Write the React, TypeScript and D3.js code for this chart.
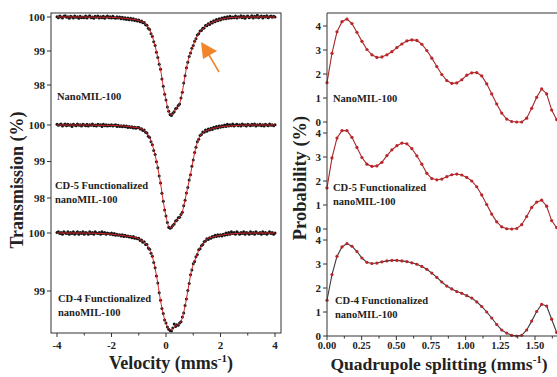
import React from 'react'
import * as d3 from 'd3'

// Mössbauer spectra: channels from -4 to 4 mm/s, step 0.05
const velocity = d3.range(161).map(i => +(-4 + i * 0.05).toFixed(2))
const spectrumNano = [
  100.01, 99.98, 100.03, 100.00, 99.97, 100.02, 100.04, 99.99, 100.01, 99.96,
  100.02, 100.00, 99.97, 100.03, 99.99, 100.01, 99.96, 100.02, 99.98, 100.00,
  99.98, 100.03, 99.97, 100.01, 100.04, 99.98, 100.00, 99.96, 100.02, 99.99,
  100.03, 99.97, 100.01, 99.98, 100.02, 99.96, 100.00, 100.03, 99.98, 100.01,
  99.97, 100.02, 99.98, 99.96, 100.01, 99.97, 100.00, 99.95, 99.99, 99.94,
  99.98, 99.93, 99.97, 99.92, 99.96, 99.91, 99.95, 99.90, 99.93, 99.88,
  99.91, 99.86, 99.88, 99.83, 99.84, 99.77, 99.76, 99.67, 99.63, 99.51,
  99.43, 99.27, 99.16, 98.96, 98.81, 98.61, 98.46, 98.18, 97.96, 97.73,
  97.56, 97.35, 97.23, 97.13, 97.10, 97.17, 97.21, 97.30, 97.32, 97.40,
  97.44, 97.62, 97.79, 98.06, 98.27, 98.51, 98.67, 98.84, 98.94, 99.08,
  99.16, 99.29, 99.36, 99.47, 99.51, 99.59, 99.60, 99.67, 99.68, 99.75,
  99.74, 99.80, 99.78, 99.85, 99.82, 99.89, 99.86, 99.93, 99.89, 99.95,
  99.91, 99.97, 99.94, 99.99, 99.95, 100.01, 99.96, 100.02, 99.97, 100.00,
  99.98, 100.03, 99.97, 100.01, 99.99, 100.04, 99.98, 100.02, 99.96, 100.01,
  100.03, 99.98, 100.00, 100.04, 99.97, 100.02, 99.99, 100.05, 99.98, 100.01,
  100.03, 99.97, 100.02, 100.00, 100.04, 99.98, 100.01, 100.03, 99.99, 100.02,
  100.00]
const spectrumCD5 = [
  100.02, 99.99, 100.01, 100.03, 99.97, 100.00, 100.03, 99.98, 100.02, 99.99,
  100.01, 99.96, 100.02, 100.00, 99.98, 100.03, 99.99, 100.01, 99.97, 100.02,
  100.00, 99.98, 100.02, 99.97, 100.01, 99.99, 100.03, 99.98, 100.00, 99.97,
  100.02, 99.99, 100.01, 99.96, 100.02, 99.98, 100.01, 99.97, 100.00, 99.98,
  100.01, 99.97, 99.99, 100.01, 99.96, 99.99, 99.96, 99.98, 99.95, 99.98,
  99.95, 99.97, 99.93, 99.96, 99.93, 99.95, 99.92, 99.94, 99.91, 99.93,
  99.93, 99.89, 99.90, 99.85, 99.86, 99.80, 99.78, 99.69, 99.66, 99.54,
  99.46, 99.30, 99.19, 98.99, 98.83, 98.60, 98.41, 98.13, 97.91, 97.67,
  97.51, 97.33, 97.20, 97.17, 97.19, 97.25, 97.29, 97.37, 97.39, 97.46,
  97.47, 97.55, 97.61, 97.79, 97.94, 98.14, 98.29, 98.49, 98.64, 98.87,
  99.04, 99.25, 99.39, 99.54, 99.61, 99.71, 99.74, 99.81, 99.80, 99.86,
  99.83, 99.89, 99.86, 99.91, 99.88, 99.94, 99.91, 99.96, 99.92, 99.97,
  99.94, 99.98, 99.95, 100.00, 99.96, 100.02, 99.97, 100.01, 99.98, 100.03,
  99.97, 100.00, 100.02, 99.98, 100.01, 99.97, 100.03, 99.99, 100.01, 99.97,
  100.02, 100.00, 99.98, 100.02, 99.99, 100.03, 99.97, 100.01, 99.99, 100.02,
  99.98, 100.01, 99.97, 100.02, 100.00, 99.98, 100.03, 99.99, 100.01, 99.98,
  100.01]
const spectrumCD4 = [
  100.01, 100.02, 99.99, 100.01, 99.98, 100.02, 100.00, 99.99, 100.02, 99.98,
  100.01, 99.99, 100.02, 99.98, 100.00, 100.02, 99.98, 100.01, 99.99, 100.02,
  99.98, 100.01, 100.00, 99.98, 100.02, 99.99, 100.01, 99.98, 100.02, 100.00,
  99.99, 100.01, 99.98, 100.02, 99.99, 100.01, 99.98, 100.00, 99.99, 99.98,
  100.00, 99.97, 99.99, 99.96, 99.98, 99.96, 99.97, 99.95, 99.97, 99.94,
  99.96, 99.94, 99.95, 99.93, 99.94, 99.92, 99.94, 99.91, 99.92, 99.90,
  99.91, 99.87, 99.88, 99.84, 99.85, 99.80, 99.80, 99.74, 99.72, 99.65,
  99.60, 99.49, 99.40, 99.26, 99.14, 98.97, 98.84, 98.70, 98.61, 98.50,
  98.45, 98.38, 98.34, 98.32, 98.31, 98.36, 98.43, 98.39, 98.42, 98.41,
  98.45, 98.47, 98.55, 98.62, 98.75, 98.86, 99.01, 99.13, 99.28, 99.36,
  99.47, 99.51, 99.59, 99.63, 99.71, 99.73, 99.78, 99.80, 99.85, 99.86,
  99.90, 99.89, 99.92, 99.91, 99.94, 99.93, 99.96, 99.94, 99.97, 99.95,
  99.97, 99.95, 99.98, 99.96, 100.00, 99.97, 100.01, 99.98, 100.02, 99.99,
  100.01, 99.98, 100.02, 100.00, 99.98, 100.01, 99.99, 100.02, 99.98, 100.01,
  100.00, 99.98, 100.02, 99.99, 100.01, 99.98, 100.02, 100.00, 99.99, 100.01,
  99.98, 100.02, 99.99, 100.01, 99.98, 100.00, 100.02, 99.99, 100.01, 99.98,
  100.00]

// fitted curves
const fitVelocity = [-4, -3, -2, -1.5, -1.2, -1, -0.9, -0.8, -0.7, -0.6, -0.5, -0.4, -0.3, -0.2, -0.1,
  0, 0.1, 0.2, 0.3, 0.4, 0.5, 0.6, 0.7, 0.8, 0.9, 1, 1.1, 1.2, 1.3, 1.4, 1.5, 1.7, 2, 2.5, 3, 4]
const fitNano = [100, 100, 99.99, 99.96, 99.93, 99.90, 99.87, 99.83, 99.75, 99.62, 99.42, 99.15, 98.80, 98.45, 97.95,
  97.55, 97.22, 97.12, 97.22, 97.33, 97.45, 97.80, 98.28, 98.68, 98.95, 99.17, 99.37, 99.52, 99.61, 99.69, 99.76,
  99.84, 99.93, 99.99, 100, 100]
const fitCD5 = [100, 100, 99.99, 99.97, 99.94, 99.92, 99.89, 99.85, 99.77, 99.65, 99.45, 99.18, 98.82, 98.40, 97.90,
  97.50, 97.22, 97.18, 97.30, 97.40, 97.47, 97.62, 97.95, 98.30, 98.65, 99.05, 99.40, 99.62, 99.75, 99.82, 99.85,
  99.90, 99.95, 99.98, 100, 100]
const fitCD4 = [100, 100, 99.98, 99.95, 99.93, 99.90, 99.87, 99.84, 99.79, 99.71, 99.59, 99.39, 99.13, 98.83, 98.60,
  98.44, 98.35, 98.33, 98.38, 98.41, 98.44, 98.54, 98.74, 99.00, 99.27, 99.46, 99.58, 99.70, 99.77, 99.84, 99.89,
  99.93, 99.96, 99.99, 100, 100]

// quadrupole splitting distributions, step 0.036 mm/s
const splitting = d3.range(47).map(i => i * 0.036)
const probNano = [1.64, 2.86, 3.76, 4.18, 4.29, 4.10, 3.74, 3.36, 3.02, 2.80,
  2.69, 2.71, 2.80, 2.93, 3.10, 3.25, 3.38, 3.42, 3.40, 3.24,
  2.98, 2.66, 2.31, 1.98, 1.73, 1.61, 1.63, 1.76, 1.95, 2.05,
  2.06, 1.92, 1.59, 1.17, 0.75, 0.37, 0.12, 0.02, 0.00, 0.00,
  0.16, 0.57, 1.03, 1.38, 1.17, 0.50, 0.10]
const probCD5 = [1.71, 2.96, 3.79, 4.10, 4.10, 3.82, 3.40, 2.98, 2.70, 2.61,
  2.63, 2.78, 3.06, 3.30, 3.47, 3.58, 3.55, 3.35, 3.05, 2.70,
  2.32, 2.10, 2.05, 2.08, 2.18, 2.26, 2.29, 2.25, 2.15, 2.00,
  1.76, 1.42, 1.02, 0.62, 0.30, 0.09, 0.01, 0.00, 0.02, 0.18,
  0.52, 0.90, 1.12, 1.20, 0.95, 0.35, 0.06]
const probCD4 = [1.49, 2.56, 3.32, 3.71, 3.85, 3.74, 3.52, 3.25, 3.07, 3.02,
  3.04, 3.09, 3.13, 3.15, 3.15, 3.13, 3.10, 3.05, 2.99, 2.90,
  2.78, 2.62, 2.44, 2.25, 2.08, 1.96, 1.85, 1.78, 1.68, 1.58,
  1.42, 1.23, 1.00, 0.75, 0.48, 0.25, 0.12, 0.03, 0.00, 0.03,
  0.25, 0.62, 1.02, 1.32, 1.25, 0.70, 0.15]

const velTicks = [-4, -2, 0, 2, 4]
const velMinor = [-3, -1, 1, 3]
const qsTicks = [0, 0.25, 0.5, 0.75, 1, 1.25, 1.5]
const qsMinor = [0.125, 0.375, 0.625, 0.875, 1.125, 1.375, 1.625]
const probTicks = [0, 1, 2, 3, 4]

const FONT = '"Liberation Serif", "Times New Roman", serif'
const AX = '#333'

export default function App(){
  const xv = d3.scaleLinear().domain([-4, 4]).range([57, 275])
  const xq = d3.scaleLinear().domain([0, 1.5]).range([327, 535])

  const left = [
    { T: spectrumNano, fit: fitNano, ticks: [100, 99, 98], y: d3.scaleLinear().domain([100, 98]).range([17, 85]),
      label: ['NanoMIL-100'], lx: 57, ly: 100 },
    { T: spectrumCD5, fit: fitCD5, ticks: [100, 99, 98], y: d3.scaleLinear().domain([100, 98]).range([125, 198]),
      label: ['CD-5 Functionalized', 'nanoMIL-100'], lx: 55, ly: 189 },
    { T: spectrumCD4, fit: fitCD4, ticks: [100, 99], y: d3.scaleLinear().domain([100, 99]).range([233, 291]),
      label: ['CD-4 Functionalized', 'nanoMIL-100'], lx: 58, ly: 302 },
  ]
  const right = [
    { P: probNano, y: d3.scaleLinear().domain([0, 4]).range([122, 26]), stroke: '#a8292b',
      label: ['NanoMIL-100'], lx: 333, ly: 102 },
    { P: probCD5, y: d3.scaleLinear().domain([0, 4]).range([229, 133]), stroke: '#a8292b',
      label: ['CD-5 Functionalized', 'nanoMIL-100'], lx: 333, ly: 191 },
    { P: probCD4, y: d3.scaleLinear().domain([0, 4]).range([336, 240]), stroke: '#3a3a3a',
      label: ['CD-4 Functionalized', 'nanoMIL-100'], lx: 335, ly: 304 },
  ]

  return (
    <svg width={557} height={377} style={{position:'absolute', left:0, top:0, background:'#fff'}}
      fontFamily={FONT} fontWeight="bold">
      {/* left: transmission spectra */}
      {left.map((p, k) => {
        const line = d3.line<number>().x((_, i) => xv(fitVelocity[i])).y(d => p.y(d)).curve(d3.curveMonotoneX)
        return (
          <g key={'l'+k}>
            {p.T.map((t, i) => <circle key={i} cx={xv(velocity[i])} cy={p.y(t)} r={1.5} fill="#151515" />)}
            <path d={line(p.fit) || ''} fill="none" stroke="#d42226" strokeWidth={1} />
            {p.ticks.map(t => (
              <g key={t}>
                <line x1={47} x2={51} y1={p.y(t)} y2={p.y(t)} stroke={AX} />
                <text x={45} y={p.y(t)} dy="0.35em" textAnchor="end" fontSize={11} fill="#222">{t}</text>
              </g>
            ))}
            <text x={p.lx} y={p.ly} fontSize={10.5} fill="#222">
              {p.label.map((s, i) => <tspan key={i} x={p.lx} dy={i ? 14 : 0}>{s}</tspan>)}
            </text>
          </g>
        )
      })}
      <rect x={51} y={13} width={230} height={320} fill="none" stroke={AX} />
      {velTicks.map(v => (
        <g key={v}>
          <line x1={xv(v)} x2={xv(v)} y1={333} y2={337} stroke={AX} />
          <text x={xv(v)} y={349} textAnchor="middle" fontSize={11} fill="#222">{v}</text>
        </g>
      ))}
      {velMinor.map(v => <line key={v} x1={xv(v)} x2={xv(v)} y1={333} y2={335.5} stroke={AX} />)}
      <text x={171} y={369} textAnchor="middle" fontSize={18} fill="#222">
        Velocity (mms<tspan dy={-7} fontSize={11}>-1</tspan><tspan dy={7}>)</tspan>
      </text>
      <text transform="translate(23,180) rotate(-90)" textAnchor="middle" fontSize={18} fill="#222">Transmission (%)</text>

      {/* arrow */}
      <line x1={219} y1={72} x2={209} y2={55} stroke="#f0852c" strokeWidth={1.6} />
      <polygon points="201,42 203,59 217,51" fill="#f0852c" />

      {/* right: quadrupole splitting distributions */}
      {right.map((p, k) => {
        const line = d3.line<number>().x((_, i) => xq(splitting[i])).y(d => p.y(d))
        return (
          <g key={'r'+k}>
            <path d={line(p.P) || ''} fill="none" stroke={p.stroke} strokeWidth={1.1} />
            {p.P.map((v, i) => <circle key={i} cx={xq(splitting[i])} cy={p.y(v)} r={1.6} fill="#bb2529" />)}
            {probTicks.map(t => (
              <g key={t}>
                <line x1={323} x2={327} y1={p.y(t)} y2={p.y(t)} stroke={AX} />
                <text x={321} y={p.y(t)} dy="0.35em" textAnchor="end" fontSize={11} fill="#222">{t}</text>
              </g>
            ))}
            <text x={p.lx} y={p.ly} fontSize={10.5} fill="#222">
              {p.label.map((s, i) => <tspan key={i} x={p.lx} dy={i ? 14 : 0}>{s}</tspan>)}
            </text>
          </g>
        )
      })}
      <line x1={327} x2={327} y1={13} y2={336} stroke={AX} />
      <line x1={327} x2={557} y1={13} y2={13} stroke={AX} />
      <line x1={327} x2={557} y1={336} y2={336} stroke={AX} />
      {qsTicks.map(q => (
        <g key={q}>
          <line x1={xq(q)} x2={xq(q)} y1={336} y2={340} stroke={AX} />
          <text x={xq(q)} y={349} textAnchor="middle" fontSize={10.5} fill="#222">{q.toFixed(2)}</text>
        </g>
      ))}
      {qsMinor.map(q => <line key={q} x1={xq(q)} x2={xq(q)} y1={336} y2={338.5} stroke={AX} />)}
      <text x={439} y={370} textAnchor="middle" fontSize={17.5} fill="#222">
        Quadrupole splitting (mms<tspan dy={-7} fontSize={11}>-1</tspan><tspan dy={7}>)</tspan>
      </text>
      <text transform="translate(306,178) rotate(-90)" textAnchor="middle" fontSize={18.5} fill="#222">Probability (%)</text>
    </svg>
  )
}
